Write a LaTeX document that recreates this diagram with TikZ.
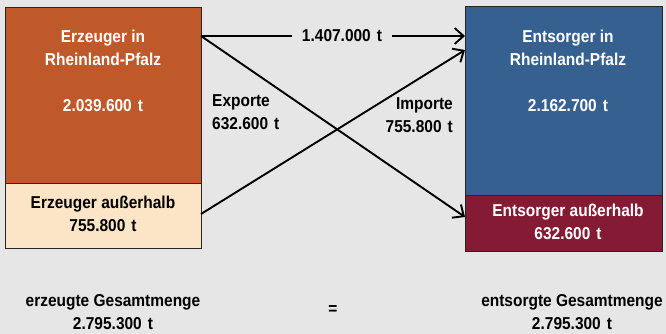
\documentclass[tikz,border=0pt]{standalone}
\usepackage{fontspec}
\setmainfont{Liberation Sans}[FakeStretch=0.9]
\usetikzlibrary{arrows.meta}
\definecolor{bg}{HTML}{E6E6E6}
\definecolor{rpOrange}{HTML}{C0592A}
\definecolor{rpBeige}{HTML}{FCE4C6}
\definecolor{rpBlue}{HTML}{36608F}
\definecolor{rpRed}{HTML}{841A33}
\tikzset{
  box/.style={draw=black!85, line width=0.9pt, rectangle, inner sep=0pt, anchor=north west},
  lbl/.style={font=\fontsize{17.2}{23}\selectfont\bfseries, inner sep=0pt, align=center},
  wlbl/.style={lbl, text=white},
  flow/.style={line width=1.9pt, -{Straight Barb[length=9pt,width=16pt,line width=1.9pt]}},
}
\begin{document}
\begin{tikzpicture}[x=1pt,y=-1pt]
\fill[bg] (0,0) rectangle (666,334);
\useasboundingbox (0,0) rectangle (666,334);
% boxes
\node[box, fill=rpOrange, minimum width=196pt, minimum height=176pt] (ltop) at (5,7) {};
\node[box, fill=rpBeige, minimum width=196pt, minimum height=65pt] (lbot) at (5,183) {};
\node[box, fill=rpBlue, minimum width=197pt, minimum height=189pt] (rtop) at (465,6) {};
\node[box, fill=rpRed, minimum width=197pt, minimum height=56pt] (rbot) at (465,195) {};
% texts in boxes
\node[wlbl] (t1) at (103,48) {Erzeuger in\\Rheinland-Pfalz};
\node[wlbl] (t2) at (103,106) {2.039.600\hspace{0.35em}t};
\node[lbl] (t3) at (103,214) {Erzeuger außerhalb\\755.800\hspace{0.35em}t};
\node[wlbl] (t4) at (568,48) {Entsorger in\\Rheinland-Pfalz};
\node[wlbl] (t5) at (568,106) {2.162.700\hspace{0.35em}t};
\node[wlbl] (t6) at (568,222) {Entsorger außerhalb\\632.600\hspace{0.35em}t};
% connectors
\coordinate (a1) at (201,36);
\coordinate (a2) at (465,36);
\coordinate (b1) at (201,36);
\coordinate (b2) at (465,217);
\coordinate (c1) at (201,214);
\coordinate (c2) at (465,50);
\draw[flow] (b1) -- (b2);
\draw[flow] (c1) -- (c2);
\draw[flow] (a1) -- (a2);
\node[lbl, fill=bg, inner xsep=10pt, inner ysep=4pt] (m1) at (342,36) {1.407.000\hspace{0.35em}t};
\node[lbl, align=left, anchor=west] (ex) at (212,112) {Exporte\\632.600\hspace{0.35em}t};
\node[lbl, align=right, anchor=east] (im) at (453,115) {Importe\\755.800\hspace{0.35em}t};
% totals
\node[lbl] (g1) at (113,312) {erzeugte Gesamtmenge\\2.795.300\hspace{0.35em}t};
\node[lbl] (eq) at (333,310) {=};
\node[lbl] (g2) at (572,312) {entsorgte Gesamtmenge\\2.795.300\hspace{0.35em}t};
\end{tikzpicture}
\end{document}
